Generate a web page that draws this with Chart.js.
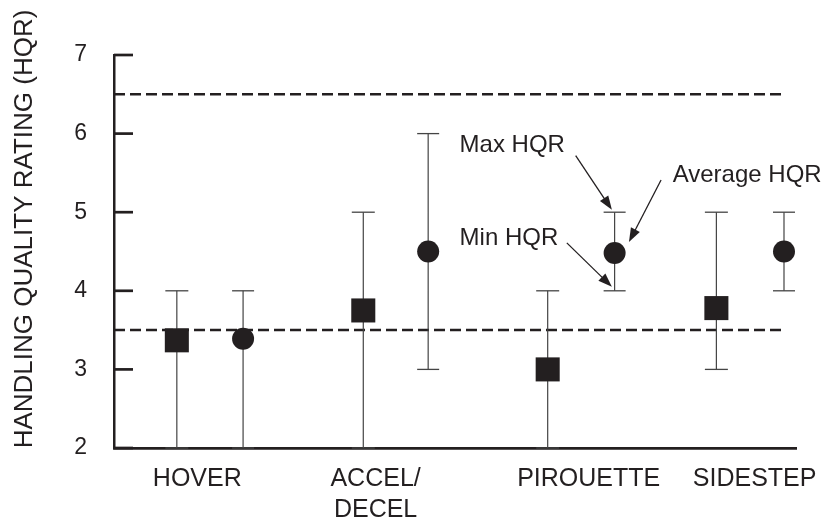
<!DOCTYPE html>
<html>
<head>
<meta charset="utf-8">
<script src="https://cdn.jsdelivr.net/npm/chart.js@4"></script>
<style>
  body { margin: 0; background: #fff; }
</style>
</head>
<body>
<canvas id="myChart" width="833" height="519"></canvas>
<script>
'use strict';

// values
const categories = ['HOVER', ['ACCEL/', 'DECEL'], 'PIROUETTE', 'SIDESTEP'];
const squareAvg = [3.37, 3.75, 3.0, 3.78];
const squareMin = [2, 2, 2, 3];
const squareMax = [4, 5, 4, 5];
const circleAvg = [3.39, 4.5, 4.48, 4.5];
const circleMin = [2, 3, 4, 4];
const circleMax = [4, 6, 5, 5];
const refLines = [6.5, 3.5];
const yTicks = [2, 3, 4, 5, 6, 7];

// where things sit along the (0..100) x scale
const squareX = [9.2, 36.5, 63.5, 88.2];
const circleX = [18.9, 46.0, 73.3, 98.1];
const labelX = [12.2, 38.3, 69.5, 93.8];
const refLineEnd = 97.8;

const INK = '#231f20';
const FONT = "'Liberation Sans', Arial, sans-serif";

// callouts for the PIROUETTE circle
var notes = [
    { text: 'Max HQR', x: 50.6, y: 5.85, from: [67.6, 5.72], to: [72.9, 5.03] },
    { text: 'Min HQR', x: 50.6, y: 4.67, from: [66.3, 4.61], to: [72.9, 4.05] },
    { text: 'Average HQR', x: 81.8, y: 5.47, from: [80.1, 5.41], to: [75.4, 4.62] },
];

function pts(xs, ys) {
    var d = [];
    for (var i = 0; i < xs.length; i++)
        d.push({ x: xs[i], y: ys[i] });
    return d;
}

function whiskers(xs, mins, maxs) {
    var d = [];
    for (var i = 0; i < xs.length; i++) {
        d.push({ x: xs[i], y: mins[i] });
        d.push({ x: xs[i], y: maxs[i] });
        d.push({ x: xs[i], y: null });
    }
    return d;
}

var datasets = [
    {
        data: pts(squareX, squareAvg),
        pointStyle: 'rect', pointRadius: 17,
        backgroundColor: INK, borderWidth: 0,
        order: 0, clip: false,
    },
    {
        data: pts(circleX, circleAvg),
        pointStyle: 'circle', pointRadius: 11,
        backgroundColor: INK, borderWidth: 0,
        order: 0, clip: false,
    },
    {
        data: whiskers(squareX, squareMin, squareMax),
        showLine: true, spanGaps: false,
        borderColor: '#444', borderWidth: 1.2,
        pointStyle: 'line', pointRadius: 11.5,
        pointBorderColor: '#444', pointBorderWidth: 1.3,
        order: 1, clip: false,
    },
    {
        data: whiskers(circleX, circleMin, circleMax),
        showLine: true, spanGaps: false,
        borderColor: '#444', borderWidth: 1.2,
        pointStyle: 'line', pointRadius: 11,
        pointBorderColor: '#444', pointBorderWidth: 1.3,
        order: 1, clip: false,
    },
];
refLines.forEach(function(v) {
    datasets.push({
        data: [{ x: 0, y: v }, { x: refLineEnd, y: v }],
        showLine: true, borderColor: INK, borderWidth: 2.5,
        borderDash: [11, 5], pointRadius: 0,
        order: 2,
    });
});

// small inward ticks on the y axis, arrows and callout text, rotated axis title
var extras = {
    id: 'extras',
    afterDraw: function(chart) {
        var c = chart.ctx;
        var xs = chart.scales.x, ys = chart.scales.y;
        var left = chart.chartArea.left;
        c.save();
        c.strokeStyle = INK;
        c.lineWidth = 2.7;
        yTicks.forEach(function(v) {
            var py = ys.getPixelForValue(v);
            c.beginPath();
            c.moveTo(left, py);
            c.lineTo(left + 19, py);
            c.stroke();
        });

        c.fillStyle = INK;
        c.font = '24px ' + FONT;
        c.textBaseline = 'middle';
        c.textAlign = 'left';
        notes.forEach(function(n) {
            c.fillText(n.text, xs.getPixelForValue(n.x), ys.getPixelForValue(n.y));
            var x0 = xs.getPixelForValue(n.from[0]), y0 = ys.getPixelForValue(n.from[1]);
            var x1 = xs.getPixelForValue(n.to[0]), y1 = ys.getPixelForValue(n.to[1]);
            var a = Math.atan2(y1 - y0, x1 - x0);
            c.lineWidth = 1.3;
            c.beginPath();
            c.moveTo(x0, y0);
            c.lineTo(x1 - 10 * Math.cos(a), y1 - 10 * Math.sin(a));
            c.stroke();
            c.beginPath();
            c.moveTo(x1, y1);
            c.lineTo(x1 - 14 * Math.cos(a) + 5 * Math.sin(a), y1 - 14 * Math.sin(a) - 5 * Math.cos(a));
            c.lineTo(x1 - 14 * Math.cos(a) - 5 * Math.sin(a), y1 - 14 * Math.sin(a) + 5 * Math.cos(a));
            c.closePath();
            c.fill();
        });

        c.translate(32, 229);
        c.rotate(-Math.PI / 2);
        c.font = '26px ' + FONT;
        c.textAlign = 'center';
        c.textBaseline = 'alphabetic';
        c.fillText('HANDLING QUALITY RATING (HQR)', 0, 0);
        c.restore();
    }
};

const ctx = document.getElementById('myChart');
var myChart = new Chart(ctx, {
    type: 'scatter',
    data: { datasets: datasets },
    plugins: [extras],
    options: {
        responsive: false,
        animation: false,
        layout: { padding: { left: 0, top: 55, right: 25, bottom: 0 } },
        plugins: {
            legend: { display: false },
            tooltip: { enabled: false },
        },
        scales: {
            x: {
                type: 'linear',
                min: 0, max: 100,
                grid: { display: false, drawTicks: false },
                border: { display: true, color: INK, width: 2.7 },
                afterBuildTicks: function(s) {
                    s.ticks = labelX.map(function(v) { return { value: v }; });
                },
                afterFit: function(s) { s.height = 71; },
                ticks: {
                    autoSkip: false, maxRotation: 0,
                    padding: 15,
                    color: INK,
                    font: { family: FONT, size: 25, lineHeight: 1.26 },
                    callback: function(v, i) { return categories[i]; },
                },
            },
            y: {
                min: 2, max: 7,
                grid: { display: false, drawTicks: false },
                border: { display: true, color: INK, width: 2.5 },
                afterBuildTicks: function(s) {
                    s.ticks = yTicks.map(function(v) { return { value: v }; });
                },
                afterFit: function(s) { s.width = 114; },
                ticks: {
                    padding: 27,
                    color: INK,
                    font: { family: FONT, size: 23 },
                },
            },
        },
    },
});
</script>
</body>
</html>
